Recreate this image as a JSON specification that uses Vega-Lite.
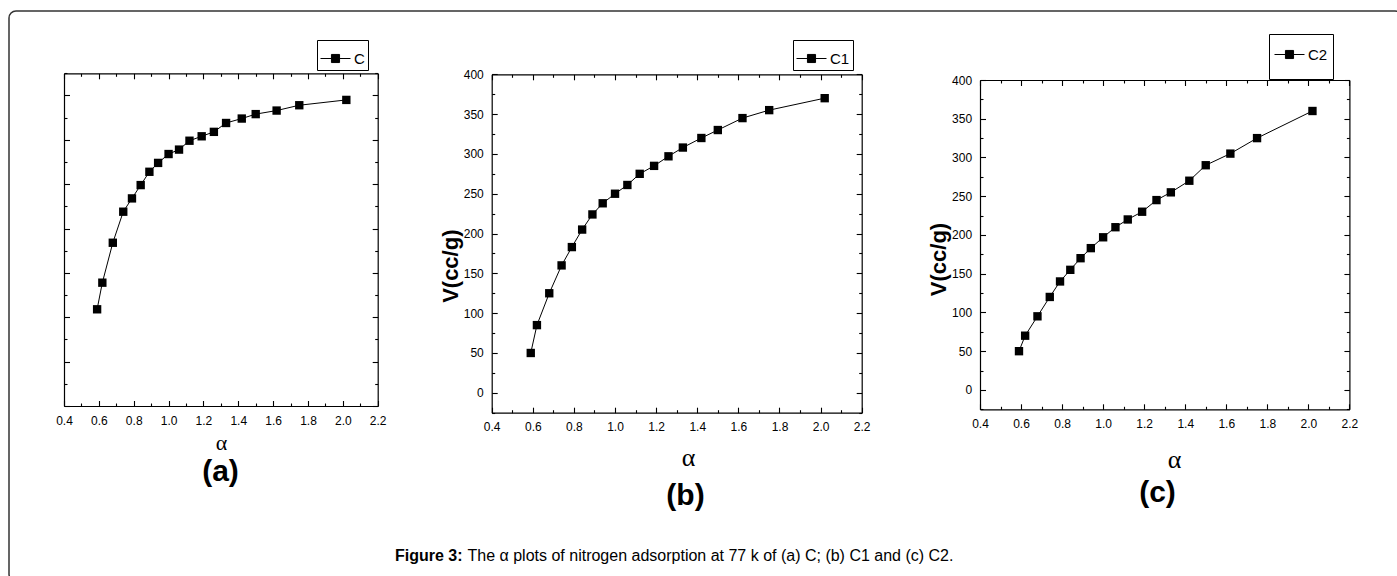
{
  "$schema": "https://vega.github.io/schema/vega-lite/v6.json",
  "width": 1393,
  "height": 570,
  "autosize": "none",
  "padding": {"left": 9, "top": 11, "right": -5, "bottom": -5},
  "background": "white",
  "config": {
    "font": "Liberation Sans",
    "view": {"stroke": "#333333", "strokeWidth": 1.5, "cornerRadius": 7},
    "axis": {
      "grid": false,
      "domainColor": "black",
      "domainWidth": 1.2,
      "tickColor": "black",
      "tickWidth": 1.1,
      "labelColor": "black",
      "labelFont": "Liberation Sans",
      "labelFontSize": 12,
      "labelFlush": false,
      "labelOverlap": false,
      "titleColor": "black",
      "minExtent": 0,
      "maxExtent": 0
    },
    "legend": {
      "labelFont": "Liberation Sans",
      "labelFontSize": 15,
      "labelColor": "black",
      "strokeColor": "black",
      "fillColor": "white",
      "padding": 3,
      "labelOffset": 3,
      "symbolType": "M-1,0H-0.27M0.27,0H1M-0.27,-0.27H0.27V0.27H-0.27Z",
      "symbolSize": 900,
      "symbolStrokeWidth": 1,
      "symbolFillColor": "black",
      "symbolStrokeColor": "black"
    }
  },
  "datasets": {
    "a": [
      {"alpha": 0.59, "v": 109, "series": "C"},
      {"alpha": 0.62, "v": 139, "series": "C"},
      {"alpha": 0.68, "v": 184, "series": "C"},
      {"alpha": 0.74, "v": 219, "series": "C"},
      {"alpha": 0.79, "v": 234, "series": "C"},
      {"alpha": 0.84, "v": 249, "series": "C"},
      {"alpha": 0.89, "v": 264, "series": "C"},
      {"alpha": 0.94, "v": 274, "series": "C"},
      {"alpha": 1.00, "v": 284, "series": "C"},
      {"alpha": 1.06, "v": 289, "series": "C"},
      {"alpha": 1.12, "v": 299, "series": "C"},
      {"alpha": 1.19, "v": 304, "series": "C"},
      {"alpha": 1.26, "v": 309, "series": "C"},
      {"alpha": 1.33, "v": 319, "series": "C"},
      {"alpha": 1.42, "v": 324, "series": "C"},
      {"alpha": 1.50, "v": 329, "series": "C"},
      {"alpha": 1.62, "v": 333, "series": "C"},
      {"alpha": 1.75, "v": 339, "series": "C"},
      {"alpha": 2.02, "v": 345, "series": "C"}
    ],
    "b": [
      {"alpha": 0.59, "v": 50, "series": "C1"},
      {"alpha": 0.62, "v": 85, "series": "C1"},
      {"alpha": 0.68, "v": 125, "series": "C1"},
      {"alpha": 0.74, "v": 160, "series": "C1"},
      {"alpha": 0.79, "v": 183, "series": "C1"},
      {"alpha": 0.84, "v": 205, "series": "C1"},
      {"alpha": 0.89, "v": 224, "series": "C1"},
      {"alpha": 0.94, "v": 238, "series": "C1"},
      {"alpha": 1.00, "v": 250, "series": "C1"},
      {"alpha": 1.06, "v": 261, "series": "C1"},
      {"alpha": 1.12, "v": 275, "series": "C1"},
      {"alpha": 1.19, "v": 285, "series": "C1"},
      {"alpha": 1.26, "v": 297, "series": "C1"},
      {"alpha": 1.33, "v": 308, "series": "C1"},
      {"alpha": 1.42, "v": 320, "series": "C1"},
      {"alpha": 1.50, "v": 330, "series": "C1"},
      {"alpha": 1.62, "v": 345, "series": "C1"},
      {"alpha": 1.75, "v": 355, "series": "C1"},
      {"alpha": 2.02, "v": 370, "series": "C1"}
    ],
    "c": [
      {"alpha": 0.59, "v": 50, "series": "C2"},
      {"alpha": 0.62, "v": 70, "series": "C2"},
      {"alpha": 0.68, "v": 95, "series": "C2"},
      {"alpha": 0.74, "v": 120, "series": "C2"},
      {"alpha": 0.79, "v": 140, "series": "C2"},
      {"alpha": 0.84, "v": 155, "series": "C2"},
      {"alpha": 0.89, "v": 170, "series": "C2"},
      {"alpha": 0.94, "v": 183, "series": "C2"},
      {"alpha": 1.00, "v": 197, "series": "C2"},
      {"alpha": 1.06, "v": 210, "series": "C2"},
      {"alpha": 1.12, "v": 220, "series": "C2"},
      {"alpha": 1.19, "v": 230, "series": "C2"},
      {"alpha": 1.26, "v": 245, "series": "C2"},
      {"alpha": 1.33, "v": 255, "series": "C2"},
      {"alpha": 1.42, "v": 270, "series": "C2"},
      {"alpha": 1.50, "v": 290, "series": "C2"},
      {"alpha": 1.62, "v": 305, "series": "C2"},
      {"alpha": 1.75, "v": 325, "series": "C2"},
      {"alpha": 2.02, "v": 360, "series": "C2"}
    ]
  },
  "layer": [
    {
      "data": {"name": "a"},
      "resolve": {"scale": {"x": "shared", "y": "shared"}, "axis": {"x": "independent", "y": "independent"}},
      "layer": [
        {
          "mark": {"type": "line", "color": "black", "strokeWidth": 1},
          "encoding": {
            "x": {"field": "alpha", "type": "quantitative", "scale": {"domain": [0.4, 2.2], "range": [55, 368.7], "zero": false, "nice": false},
              "axis": {"orient": "bottom", "offset": -175, "values": [0.4, 0.6, 0.8, 1.0, 1.2, 1.4, 1.6, 1.8, 2.0, 2.2], "format": ".1f", "tickSize": -5.5, "labelPadding": 19.5, "labelBaseline": "middle",
                "title": "α", "titleX": 212, "titleY": 36, "titleBaseline": "middle", "titleAlign": "center", "titleFont": "Liberation Serif", "titleFontSize": 22, "titleFontWeight": "normal"}},
            "y": {"field": "v", "type": "quantitative", "scale": {"domain": [0, 375], "range": [395, 62.3], "zero": false, "nice": false},
              "axis": {"orient": "left", "offset": -55, "values": [0, 50, 100, 150, 200, 250, 300, 350], "labels": false, "tickSize": -5.5, "title": null}},
            "color": {"field": "series", "type": "nominal", "scale": {"domain": ["C"], "range": ["black"]},
              "legend": {"orient": "none", "legendX": 308, "legendY": 29, "title": null}}
          }
        },
        {
          "mark": {"type": "point", "shape": "square", "filled": true, "size": 70, "opacity": 1},
          "encoding": {
            "x": {"field": "alpha", "type": "quantitative", "scale": {"domain": [0.4, 2.2], "range": [55, 368.7], "zero": false, "nice": false},
              "axis": {"orient": "top", "offset": -62.3, "values": [0.4, 0.6, 0.8, 1.0, 1.2, 1.4, 1.6, 1.8, 2.0, 2.2], "labels": false, "tickSize": -5.5, "title": null}},
            "y": {"field": "v", "type": "quantitative", "scale": {"domain": [0, 375], "range": [395, 62.3], "zero": false, "nice": false},
              "axis": {"orient": "right", "offset": -1024.3, "values": [0, 50, 100, 150, 200, 250, 300, 350], "labels": false, "tickSize": -5.5, "title": null}},
            "color": {"field": "series", "type": "nominal", "scale": {"domain": ["C"], "range": ["black"]},
              "legend": {"orient": "none", "legendX": 308, "legendY": 29, "title": null}}
          }
        },
        {
          "mark": {"type": "point", "opacity": 0},
          "encoding": {
            "x": {"field": "alpha", "type": "quantitative", "scale": {"domain": [0.4, 2.2], "range": [55, 368.7], "zero": false, "nice": false},
              "axis": {"orient": "bottom", "offset": -175, "values": [0.5, 0.7, 0.9, 1.1, 1.3, 1.5, 1.7, 1.9, 2.1], "labels": false, "domain": false, "tickSize": -3,
                "title": "(a)", "titleX": 211, "titleY": 65, "titleBaseline": "middle", "titleAlign": "center", "titleFont": "Liberation Sans", "titleFontSize": 30, "titleFontWeight": "bold"}},
            "y": {"field": "v", "type": "quantitative", "scale": {"domain": [0, 375], "range": [395, 62.3], "zero": false, "nice": false},
              "axis": {"orient": "left", "offset": -55, "values": [25, 75, 125, 175, 225, 275, 325, 375], "labels": false, "domain": false, "tickSize": -3, "title": null}}
          }
        },
        {
          "mark": {"type": "point", "opacity": 0},
          "encoding": {
            "x": {"field": "alpha", "type": "quantitative", "scale": {"domain": [0.4, 2.2], "range": [55, 368.7], "zero": false, "nice": false},
              "axis": {"orient": "top", "offset": -62.3, "values": [0.5, 0.7, 0.9, 1.1, 1.3, 1.5, 1.7, 1.9, 2.1], "labels": false, "domain": false, "tickSize": -3,
                "title": "Figure 3:", "titleX": 453, "titleY": 486.7, "titleAlign": "right", "titleBaseline": "alphabetic", "titleFont": "Liberation Sans", "titleFontSize": 16, "titleFontWeight": "bold"}},
            "y": {"field": "v", "type": "quantitative", "scale": {"domain": [0, 375], "range": [395, 62.3], "zero": false, "nice": false},
              "axis": {"orient": "right", "offset": -1024.3, "values": [25, 75, 125, 175, 225, 275, 325, 375], "labels": false, "domain": false, "tickSize": -3,
                "title": "The α plots of nitrogen adsorption at 77 k of (a) C; (b) C1 and (c) C2.", "titleAngle": 0, "titleX": 89.3, "titleY": 549, "titleAlign": "left", "titleBaseline": "alphabetic", "titleFont": "Liberation Sans", "titleFontSize": 16, "titleFontWeight": "normal"}}
          }
        }
      ]
    },
    {
      "data": {"name": "b"},
      "resolve": {"scale": {"x": "shared", "y": "shared"}, "axis": {"x": "independent", "y": "independent"}},
      "layer": [
        {
          "mark": {"type": "line", "color": "black", "strokeWidth": 1},
          "encoding": {
            "x": {"field": "alpha", "type": "quantitative", "scale": {"domain": [0.4, 2.2], "range": [482.7, 852.7], "zero": false, "nice": false},
              "axis": {"orient": "bottom", "offset": -168.3, "values": [0.4, 0.6, 0.8, 1.0, 1.2, 1.4, 1.6, 1.8, 2.0, 2.2], "format": ".1f", "tickSize": -5.5, "labelPadding": 19.5, "labelBaseline": "middle",
                "title": "α", "titleX": 679, "titleY": 44.3, "titleBaseline": "middle", "titleAlign": "center", "titleFont": "Liberation Serif", "titleFontSize": 26, "titleFontWeight": "normal"}},
            "y": {"field": "v", "type": "quantitative", "scale": {"domain": [-25, 400], "range": [401.7, 63.3], "zero": false, "nice": false},
              "axis": {"orient": "left", "offset": -482.7, "values": [0, 50, 100, 150, 200, 250, 300, 350, 400], "tickSize": -5.5, "labelPadding": 13.9,
                "title": "V(cc/g)", "titleAngle": -90, "titleX": -41, "titleY": 254.7, "titleAlign": "center", "titleBaseline": "middle", "titleFont": "Liberation Sans", "titleFontSize": 22, "titleFontWeight": "bold"}},
            "color": {"field": "series", "type": "nominal", "scale": {"domain": ["C1"], "range": ["black"]},
              "legend": {"orient": "none", "legendX": 784, "legendY": 29, "title": null}}
          }
        },
        {
          "mark": {"type": "point", "shape": "square", "filled": true, "size": 70, "opacity": 1},
          "encoding": {
            "x": {"field": "alpha", "type": "quantitative", "scale": {"domain": [0.4, 2.2], "range": [482.7, 852.7], "zero": false, "nice": false},
              "axis": {"orient": "top", "offset": -63.3, "values": [0.4, 0.6, 0.8, 1.0, 1.2, 1.4, 1.6, 1.8, 2.0, 2.2], "labels": false, "tickSize": -5.5, "title": null}},
            "y": {"field": "v", "type": "quantitative", "scale": {"domain": [-25, 400], "range": [401.7, 63.3], "zero": false, "nice": false},
              "axis": {"orient": "right", "offset": -540.3, "values": [0, 50, 100, 150, 200, 250, 300, 350, 400], "labels": false, "tickSize": -5.5, "title": null}},
            "color": {"field": "series", "type": "nominal", "scale": {"domain": ["C1"], "range": ["black"]},
              "legend": {"orient": "none", "legendX": 784, "legendY": 29, "title": null}}
          }
        },
        {
          "mark": {"type": "point", "opacity": 0},
          "encoding": {
            "x": {"field": "alpha", "type": "quantitative", "scale": {"domain": [0.4, 2.2], "range": [482.7, 852.7], "zero": false, "nice": false},
              "axis": {"orient": "bottom", "offset": -168.3, "values": [0.5, 0.7, 0.9, 1.1, 1.3, 1.5, 1.7, 1.9, 2.1], "labels": false, "domain": false, "tickSize": -3,
                "title": "(b)", "titleX": 676, "titleY": 82.3, "titleBaseline": "middle", "titleAlign": "center", "titleFont": "Liberation Sans", "titleFontSize": 30, "titleFontWeight": "bold"}},
            "y": {"field": "v", "type": "quantitative", "scale": {"domain": [-25, 400], "range": [401.7, 63.3], "zero": false, "nice": false},
              "axis": {"orient": "left", "offset": -482.7, "values": [-25, 25, 75, 125, 175, 225, 275, 325, 375], "labels": false, "domain": false, "tickSize": -3, "title": null}}
          }
        },
        {
          "mark": {"type": "point", "opacity": 0},
          "encoding": {
            "x": {"field": "alpha", "type": "quantitative", "scale": {"domain": [0.4, 2.2], "range": [482.7, 852.7], "zero": false, "nice": false},
              "axis": {"orient": "top", "offset": -63.3, "values": [0.5, 0.7, 0.9, 1.1, 1.3, 1.5, 1.7, 1.9, 2.1], "labels": false, "domain": false, "tickSize": -3, "title": null}},
            "y": {"field": "v", "type": "quantitative", "scale": {"domain": [-25, 400], "range": [401.7, 63.3], "zero": false, "nice": false},
              "axis": {"orient": "right", "offset": -540.3, "values": [-25, 25, 75, 125, 175, 225, 275, 325, 375], "labels": false, "domain": false, "tickSize": -3, "title": null}}
          }
        }
      ]
    },
    {
      "data": {"name": "c"},
      "resolve": {"scale": {"x": "shared", "y": "shared"}, "axis": {"x": "independent", "y": "independent"}},
      "layer": [
        {
          "mark": {"type": "line", "color": "black", "strokeWidth": 1},
          "encoding": {
            "x": {"field": "alpha", "type": "quantitative", "scale": {"domain": [0.4, 2.2], "range": [971, 1340.4], "zero": false, "nice": false},
              "axis": {"orient": "bottom", "offset": -171.7, "values": [0.4, 0.6, 0.8, 1.0, 1.2, 1.4, 1.6, 1.8, 2.0, 2.2], "format": ".1f", "tickSize": -5.5, "labelPadding": 19.5, "labelBaseline": "middle",
                "title": "α", "titleX": 1165, "titleY": 49.7, "titleBaseline": "middle", "titleAlign": "center", "titleFont": "Liberation Serif", "titleFontSize": 26, "titleFontWeight": "normal"}},
            "y": {"field": "v", "type": "quantitative", "scale": {"domain": [-25, 400], "range": [398.3, 69], "zero": false, "nice": false},
              "axis": {"orient": "left", "offset": -971, "values": [0, 50, 100, 150, 200, 250, 300, 350, 400], "tickSize": -5.5, "labelPadding": 13.9,
                "title": "V(cc/g)", "titleAngle": -90, "titleX": -42, "titleY": 248, "titleAlign": "center", "titleBaseline": "middle", "titleFont": "Liberation Sans", "titleFontSize": 22, "titleFontWeight": "bold"}},
            "color": {"field": "series", "type": "nominal", "scale": {"domain": ["C2"], "range": ["black"]},
              "legend": {"orient": "none", "legendX": 1260, "legendY": 23, "padding": 5, "title": " ", "titleOrient": "bottom", "titleFontSize": 9, "titlePadding": 2}}
          }
        },
        {
          "mark": {"type": "point", "shape": "square", "filled": true, "size": 70, "opacity": 1},
          "encoding": {
            "x": {"field": "alpha", "type": "quantitative", "scale": {"domain": [0.4, 2.2], "range": [971, 1340.4], "zero": false, "nice": false},
              "axis": {"orient": "top", "offset": -69, "values": [0.4, 0.6, 0.8, 1.0, 1.2, 1.4, 1.6, 1.8, 2.0, 2.2], "labels": false, "tickSize": -5.5, "title": null}},
            "y": {"field": "v", "type": "quantitative", "scale": {"domain": [-25, 400], "range": [398.3, 69], "zero": false, "nice": false},
              "axis": {"orient": "right", "offset": -52.6, "values": [0, 50, 100, 150, 200, 250, 300, 350, 400], "labels": false, "tickSize": -5.5, "title": null}},
            "color": {"field": "series", "type": "nominal", "scale": {"domain": ["C2"], "range": ["black"]},
              "legend": {"orient": "none", "legendX": 1260, "legendY": 23, "padding": 5, "title": " ", "titleOrient": "bottom", "titleFontSize": 9, "titlePadding": 2}}
          }
        },
        {
          "mark": {"type": "point", "opacity": 0},
          "encoding": {
            "x": {"field": "alpha", "type": "quantitative", "scale": {"domain": [0.4, 2.2], "range": [971, 1340.4], "zero": false, "nice": false},
              "axis": {"orient": "bottom", "offset": -171.7, "values": [0.5, 0.7, 0.9, 1.1, 1.3, 1.5, 1.7, 1.9, 2.1], "labels": false, "domain": false, "tickSize": -3,
                "title": "(c)", "titleX": 1148, "titleY": 82.7, "titleBaseline": "middle", "titleAlign": "center", "titleFont": "Liberation Sans", "titleFontSize": 30, "titleFontWeight": "bold"}},
            "y": {"field": "v", "type": "quantitative", "scale": {"domain": [-25, 400], "range": [398.3, 69], "zero": false, "nice": false},
              "axis": {"orient": "left", "offset": -971, "values": [-25, 25, 75, 125, 175, 225, 275, 325, 375], "labels": false, "domain": false, "tickSize": -3, "title": null}}
          }
        },
        {
          "mark": {"type": "point", "opacity": 0},
          "encoding": {
            "x": {"field": "alpha", "type": "quantitative", "scale": {"domain": [0.4, 2.2], "range": [971, 1340.4], "zero": false, "nice": false},
              "axis": {"orient": "top", "offset": -69, "values": [0.5, 0.7, 0.9, 1.1, 1.3, 1.5, 1.7, 1.9, 2.1], "labels": false, "domain": false, "tickSize": -3, "title": null}},
            "y": {"field": "v", "type": "quantitative", "scale": {"domain": [-25, 400], "range": [398.3, 69], "zero": false, "nice": false},
              "axis": {"orient": "right", "offset": -52.6, "values": [-25, 25, 75, 125, 175, 225, 275, 325, 375], "labels": false, "domain": false, "tickSize": -3, "title": null}}
          }
        }
      ]
    }
  ],
  "resolve": {
    "scale": {"x": "independent", "y": "independent", "color": "independent"},
    "axis": {"x": "independent", "y": "independent"},
    "legend": {"color": "independent"}
  }
}
